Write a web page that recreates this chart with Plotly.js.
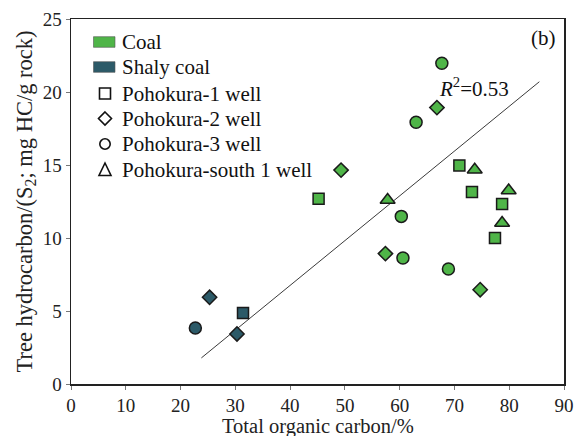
<!DOCTYPE html>
<html>
<head>
<meta charset="utf-8">
<script src="https://cdn.plot.ly/plotly-3.0.1.min.js"></script>
<style>
  html, body { margin: 0; padding: 0; background: #fff; }
  #chart { width: 581px; height: 436px; }
</style>
</head>
<body>
<div id="chart"></div>
<script>
// TOC (%) vs S2 (mg HC/g rock), Pohokura field wells
// Pohokura-1 well
const p1CoalToc = [45.2, 70.9, 73.2, 78.7, 77.4];
const p1CoalS2 = [12.69, 14.97, 13.15, 12.33, 10.0];
const p1ShalyToc = [31.4];
const p1ShalyS2 = [4.87];
// Pohokura-2 well
const p2CoalToc = [66.8, 49.3, 57.4, 74.7];
const p2CoalS2 = [18.93, 14.65, 8.93, 6.46];
const p2ShalyToc = [25.3, 30.3];
const p2ShalyS2 = [5.94, 3.43];
// Pohokura-3 well
const p3CoalToc = [67.7, 63.0, 60.3, 60.6, 68.9];
const p3CoalS2 = [21.97, 17.93, 11.48, 8.63, 7.88];
const p3ShalyToc = [22.7];
const p3ShalyS2 = [3.84];
// Pohokura-south 1 well
const ps1CoalToc = [57.8, 73.7, 79.9, 78.7];
const ps1CoalS2 = [12.6, 14.68, 13.25, 11.03];

// Linear fit
const fitSlope = 0.3066;
const fitIntercept = -5.51;
const fitTocRange = [23.8, 85.5];
const fitLabel = '<i>R</i><sup>2</sup>=0.53';

const lithologyNames = ['Coal', 'Shaly coal'];
const wellNames = ['Pohokura-1 well', 'Pohokura-2 well', 'Pohokura-3 well', 'Pohokura-south 1 well'];

const xTicks = [0, 10, 20, 30, 40, 50, 60, 70, 80, 90];
const yTicks = [0, 5, 10, 15, 20, 25];
const xTitle = 'Total organic carbon/%';
const yTitle = 'Tree hydrocarbon/(S<sub>2</sub>; mg HC/g rock)';

const COAL = '#4fb548';
const SHALY = '#2c5a68';
const EDGE = '#1a1a1a';
const FONT = 'Liberation Serif, Times New Roman, serif';

function pts(x, y, symbol, color, size) {
  return {
    x: x, y: y, type: 'scatter', mode: 'markers', showlegend: false, hoverinfo: 'skip',
    marker: { symbol: symbol, color: color, size: size, line: { color: EDGE, width: 1.5 } }
  };
}

const fitY = fitTocRange.map(v => fitSlope * v + fitIntercept);

const traces = [
  { x: fitTocRange, y: fitY, type: 'scatter', mode: 'lines', showlegend: false, hoverinfo: 'skip',
    line: { color: '#3a3a3a', width: 1 } },
  pts(p1CoalToc, p1CoalS2, 'square', COAL, 11),
  pts(p1ShalyToc, p1ShalyS2, 'square', SHALY, 11),
  pts(p2CoalToc, p2CoalS2, 'diamond', COAL, 11),
  pts(p2ShalyToc, p2ShalyS2, 'diamond', SHALY, 11),
  pts(p3CoalToc, p3CoalS2, 'circle', COAL, 12),
  pts(p3ShalyToc, p3ShalyS2, 'circle', SHALY, 12),
  pts(ps1CoalToc, ps1CoalS2, 'triangle-up', COAL, 13)
];

// plot-area geometry, used to place the hand-drawn key
const M = { l: 71, r: 17, t: 19, b: 52 };
const W = 581 - M.l - M.r, H = 436 - M.t - M.b;
const px = X => (X - M.l) / W;
const py = Y => (436 - M.b - Y) / H;

const shapes = [];
const annotations = [];

// lithology swatches
const swatchColors = [COAL, SHALY];
const rowY = [42, 67, 93.5, 118.5, 144, 169.5];
lithologyNames.forEach((name, i) => {
  shapes.push({ type: 'rect', xref: 'paper', yref: 'paper',
    x0: px(93.5), x1: px(115), y0: py(rowY[i] + 5.3), y1: py(rowY[i] - 5.3),
    fillcolor: swatchColors[i], line: { color: '#555', width: 0.6 } });
});

// well symbols (outlined)
function pathFrom(points, cx, cy) {
  return 'M' + points.map(p => px(cx + p[0]) + ',' + py(cy + p[1])).join('L') + 'Z';
}
const symCx = 105;
const outline = { color: '#111', width: 1.6 };
shapes.push({ type: 'rect', xref: 'paper', yref: 'paper',
  x0: px(symCx - 5.5), x1: px(symCx + 5.5), y0: py(rowY[2] + 5.5), y1: py(rowY[2] - 5.5),
  line: outline });
shapes.push({ type: 'path', xref: 'paper', yref: 'paper',
  path: pathFrom([[0, -6.5], [6.5, 0], [0, 6.5], [-6.5, 0]], symCx, rowY[3]), line: outline });
shapes.push({ type: 'circle', xref: 'paper', yref: 'paper',
  x0: px(symCx - 5.2), x1: px(symCx + 5.2), y0: py(rowY[4] + 5.2), y1: py(rowY[4] - 5.2),
  line: outline });
shapes.push({ type: 'path', xref: 'paper', yref: 'paper',
  path: pathFrom([[0, -6.5], [6, 6], [-6, 6]], symCx, rowY[5]), line: outline });

lithologyNames.concat(wellNames).forEach((name, i) => {
  annotations.push({ xref: 'paper', yref: 'paper', x: px(120), y: py(rowY[i]),
    xanchor: 'left', yanchor: 'middle', showarrow: false, text: name,
    font: { family: FONT, size: 21, color: '#111' } });
});

annotations.push({ xref: 'paper', yref: 'paper', x: px(558), y: py(38),
  xanchor: 'right', yanchor: 'middle', showarrow: false, text: '(b)',
  font: { family: FONT, size: 21, color: '#111' } });
annotations.push({ x: 73.6, y: 20.3, xref: 'x', yref: 'y', showarrow: false,
  text: fitLabel, font: { family: FONT, size: 21, color: '#111' } });

// x-axis title, set just below the tick labels
annotations.push({ xref: 'paper', yref: 'paper', x: 0.5, y: py(414), borderpad: 0,
  xanchor: 'center', yanchor: 'top', showarrow: false, text: xTitle,
  font: { family: FONT, size: 20.5, color: '#222' } });

const axisCommon = {
  showgrid: false, zeroline: false, showline: true, mirror: true,
  linecolor: '#222', linewidth: 1.5,
  ticks: 'outside', ticklen: 4, tickwidth: 1, tickcolor: '#777',
  tickfont: { family: FONT, size: 19, color: '#222' }
};

const layout = {
  width: 581, height: 436,
  margin: M,
  paper_bgcolor: '#fff', plot_bgcolor: '#fff',
  showlegend: false,
  xaxis: Object.assign({}, axisCommon, {
    range: [0, 90], tickvals: xTicks, ticktext: xTicks.map(String)
  }),
  yaxis: Object.assign({}, axisCommon, {
    range: [0, 25], tickvals: yTicks, ticktext: yTicks.map(String),
    title: { text: yTitle, font: { family: FONT, size: 22.5, color: '#222' }, standoff: 4 }
  }),
  shapes: shapes,
  annotations: annotations
};

Plotly.newPlot('chart', traces, layout, { staticPlot: true, displayModeBar: false });
</script>
</body>
</html>
